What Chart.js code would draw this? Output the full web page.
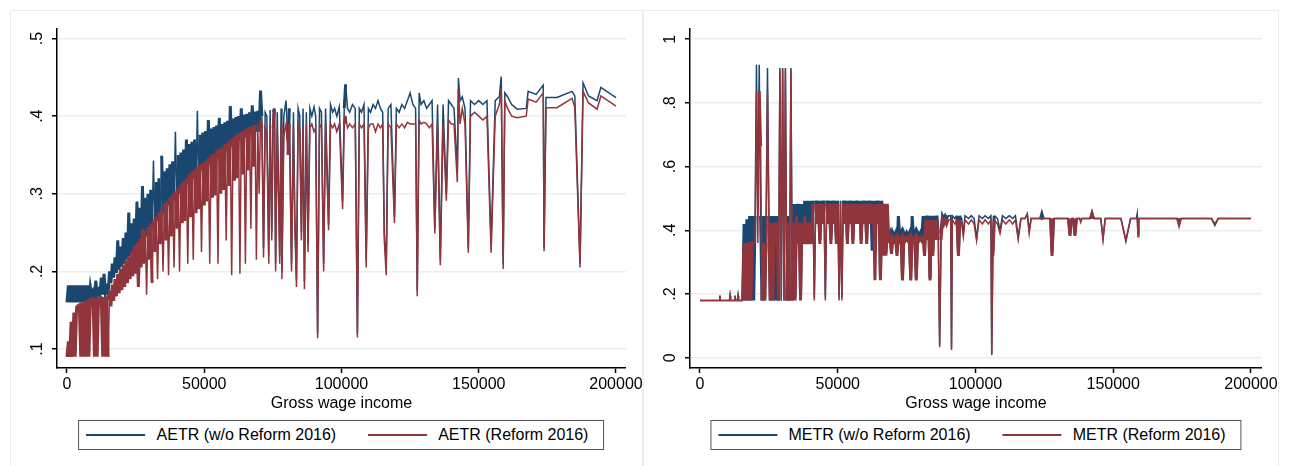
<!DOCTYPE html>
<html>
<head>
<meta charset="utf-8">
<title>AETR / METR</title>
<script src="https://cdn.jsdelivr.net/npm/chart.js@4.4.1/dist/chart.umd.min.js"></script>
<style>
  html, body { margin: 0; padding: 0; background: #fff; }
  body { width: 1291px; height: 466px; overflow: hidden; position: relative;
         font-family: "Liberation Sans", Arial, sans-serif; }
  .panel { position: absolute; top: 10px; height: 470px; box-sizing: border-box;
           border: 1px solid #e8eff1; background: #fff; }
  #panelLeft { left: 10px; width: 633px; }
  #panelRight { left: 643px; width: 636px; }
  .panel canvas { position: absolute; left: 0; top: 0; }
  .legend { position: absolute; top: 409px; height: 30px; box-sizing: border-box;
            transform: translateX(-50%); border: 1.5px solid #555; background: #fff;
            display: flex; align-items: center; padding: 0 15px 0 7px; white-space: nowrap;
            font-size: 16px; color: #000; }
  .legend .item { display: flex; align-items: center; }
  .legend .item + .item { margin-left: 32px; }
  .legend .swatch { display: inline-block; width: 59px; height: 1.5px; margin-right: 11px; }
</style>
</head>
<body>
<div class="panel" id="panelLeft"><canvas id="aetrChart" width="634" height="455"></canvas></div>
<div class="panel" id="panelRight"><canvas id="metrChart" width="636" height="455"></canvas></div>

<script>
// --- data: average effective tax rate (left panel) ---
const aetrIncome = [
  0, 500, 1000, 1500, 2000, 2500, 3000, 3500, 4000, 4500,
  5000, 5500, 6000, 6500, 7000, 7500, 8000, 8500, 9000, 9500,
  10000, 10500, 11000, 11500, 12000, 12500, 13000, 13500, 14000, 14500,
  15000, 15500, 16000, 16500, 17000, 17500, 18000, 18500, 19000, 19500,
  20000, 20500, 21000, 21500, 22000, 22500, 23000, 23500, 24000, 24500,
  25000, 25500, 26000, 26500, 27000, 27500, 28000, 28500, 29000, 29500,
  30000, 30500, 31000, 31500, 32000, 32500, 33000, 33500, 34000, 34500,
  35000, 35500, 36000, 36500, 37000, 37500, 38000, 38500, 39000, 39500,
  40000, 40500, 41000, 41500, 42000, 42500, 43000, 43500, 44000, 44500,
  45000, 45500, 46000, 46500, 47000, 47500, 48000, 48500, 49000, 49500,
  50000, 50500, 51000, 51500, 52000, 52500, 53000, 53500, 54000, 54500,
  55000, 55500, 56000, 56500, 57000, 57500, 58000, 58500, 59000, 59500,
  60000, 60500, 61000, 61500, 62000, 62500, 63000, 63500, 64000, 64500,
  65000, 65500, 66000, 66500, 67000, 67500, 68000, 68500, 69000, 69500,
  70000,
  70500, 71000, 71600, 72200, 72800, 73500, 74000, 74600, 75100, 75600,
  76000, 76600, 77500, 78000, 78300, 79000, 79800, 80500, 81000, 81800,
  82500, 83000, 83600, 84200, 84800, 85400, 86000, 86500, 87200, 87800,
  88500, 89200, 90000, 90600, 91300, 92000, 92700, 93500, 94200, 95300,
  96000, 96800, 97500, 98300, 99200, 100400, 101000, 101500, 102200, 103000,
  104000, 105000, 105800, 106500, 107300, 108200, 109000, 109800, 110600, 111500,
  112400, 113300, 114200, 115000, 115600, 116300, 117000, 118000, 119300, 120000,
  121000, 122000, 123000, 124000, 125000, 126000, 127000, 127600, 128300, 129000,
  130000, 131000, 132000, 133000, 134000, 135000, 136000, 137000, 138200, 139000,
  140000, 141000, 142200, 142600, 143200, 144000, 145000, 146200, 147000, 148500,
  150000, 151500, 153000, 154500, 156000, 157500, 158200, 158900, 159500, 160500,
  162000, 164000, 167300, 168000, 170900, 173500, 173800, 174500, 178500, 184000,
  185000, 186900, 188000, 190000, 193100, 194500, 200000
];
const aetrOld = [
  .160, .182, .160, .182, .160, .182, .160, .182, .160, .182,
  .160, .182, .160, .182, .160, .182, .160, .180, .168, .174,
  .168, .188, .169, .175, .170, .192, .170, .197, .171, .178,
  .172, .200, .185, .210, .192, .218, .198, .240, .202, .232,
  .206, .243, .210, .250, .215, .276, .220, .262, .224, .268,
  .227, .290, .215, .282, .235, .310, .240, .295, .245, .300,
  .245, .305, .255, .343, .255, .315, .265, .320, .265, .349,
  .275, .329, .270, .333, .285, .338, .275, .342, .292, .380,
  .285, .350, .300, .353, .292, .357, .295, .370, .312, .364,
  .300, .367, .320, .370, .305, .407, .310, .376, .330, .379,
  .315, .381, .320, .395, .338, .384, .325, .386, .328, .388,
  .347, .398, .330, .390, .335, .392, .355, .394, .340, .413,
  .361, .397, .347, .399, .350, .400, .369, .410, .355, .402,
  .373, .403, .360, .405, .377, .414, .365, .406, .380, .407,
  .380,
  .433, .400, .230, .405, .400, .220, .408, .250, .405, .410,
  .210, .405, .220, .410, .200, .400, .420, .370, .410, .210,
  .405, .270, .190, .410, .400, .250, .410, .187, .405, .235,
  .410, .400, .412, .400, .120, .410, .405, .210, .410, .260,
  .415, .405, .410, .400, .412, .290, .410, .441, .410, .405,
  .415, .410, .120, .410, .405, .415, .215, .410, .405, .415,
  .410, .420, .410, .405, .250, .205, .410, .415, .270, .410,
  .405, .415, .410, .420, .430, .415, .410, .175, .430, .415,
  .420, .410, .415, .420, .255, .415, .215, .415, .300, .420,
  .415, .410, .330, .449, .420, .425, .410, .230, .420, .415,
  .420, .415, .420, .235, .420, .425, .451, .210, .430, .425,
  .415, .409, .410, .432, .428, .440, .230, .424, .424, .432,
  .426, .210, .443, .426, .420, .437, .424
];
const aetrNew = [
  .090, .110, .090, .135, .090, .147, .090, .154, .156, .157,
  .090, .160, .090, .162, .090, .163, .090, .164, .164, .165,
  .090, .165, .090, .166, .166, .166, .090, .167, .090, .168,
  .090, .175, .155, .183, .162, .190, .168, .197, .172, .203,
  .176, .208, .180, .214, .185, .219, .190, .226, .194, .232,
  .197, .237, .180, .242, .205, .255, .210, .252, .170, .257,
  .215, .262, .185, .266, .225, .271, .190, .276, .235, .280,
  .200, .287, .240, .290, .195, .296, .245, .300, .205, .303,
  .255, .308, .200, .312, .262, .316, .265, .320, .210, .325,
  .270, .328, .215, .332, .275, .335, .280, .338, .225, .340,
  .285, .342, .290, .346, .210, .350, .295, .352, .298, .356,
  .210, .358, .300, .360, .305, .364, .240, .366, .310, .370,
  .195, .373, .317, .376, .320, .378, .197, .380, .325, .382,
  .210, .384, .330, .386, .255, .388, .335, .389, .215, .390,
  .300,
  .395, .385, .218, .385, .380, .210, .390, .240, .385, .409,
  .200, .385, .210, .390, .190, .375, .390, .350, .390, .200,
  .385, .260, .180, .390, .380, .240, .385, .177, .390, .225,
  .385, .390, .380, .385, .114, .390, .385, .200, .390, .253,
  .390, .385, .390, .380, .390, .280, .390, .400, .385, .390,
  .385, .390, .115, .390, .385, .390, .205, .385, .390, .390,
  .380, .390, .385, .390, .240, .195, .390, .385, .262, .390,
  .385, .390, .385, .392, .390, .390, .390, .168, .395, .390,
  .392, .390, .385, .390, .249, .390, .208, .390, .291, .395,
  .390, .390, .315, .435, .390, .410, .390, .224, .400, .405,
  .400, .395, .400, .224, .400, .415, .436, .203, .420, .410,
  .400, .398, .400, .422, .418, .430, .226, .411, .411, .423,
  .411, .205, .432, .417, .409, .426, .413
];

// --- data: marginal effective tax rate (right panel) ---
const metrIncome = [
  0, 7000, 7200, 7400, 10700, 10900, 11100, 12500, 12700, 12900,
  13600, 13800, 14000, 15500,
  16000, 16500, 17000, 17500, 18000, 18500, 19000, 19500, 20000, 20500,
  21000, 21500, 22000, 22500, 23000, 23500, 24000, 24500, 25000, 25500,
  26000, 26500, 27000, 27500, 28000, 28500, 29000, 29500, 30000, 30500,
  31000, 31500, 32000, 32500, 33000, 33500, 34000, 34500, 35000, 35500,
  36000, 36500, 37000, 37500, 38000, 38500, 39000, 39500, 40000, 40500,
  41000, 41500, 42000, 42500, 43000, 43500, 44000, 44500, 45000, 45500,
  46000, 46500, 47000, 47500, 48000, 48500, 49000, 49500, 50000, 50500,
  51000, 51500, 52000, 52500, 53000, 53500, 54000, 54500, 55000, 55500,
  56000, 56500, 57000, 57500, 58000, 58500, 59000, 59500, 60000, 60500,
  61000, 61500, 62000, 62500, 63000, 63500, 64000, 64500, 65000, 65500,
  66000, 66500, 67000, 67500, 68000, 68500, 69000, 69500, 70000, 70500,
  71000, 71500, 72000, 72500, 73000, 73500, 74000, 74500, 75000, 75500,
  76000, 76500, 77000, 77500, 78000, 78500, 79000, 79500, 80000, 80500,
  81000, 81500, 82000, 82500, 83000, 83500, 84000, 84500, 85000, 85500,
  86000, 86500, 87000, 87500, 88000,
  88500, 89000, 89500, 90000, 91000, 91300, 91600, 92500, 93300, 93800,
  94300, 95000, 95600, 96200, 97500, 98500, 99500, 100400, 101300, 102500,
  103500, 104700, 105600, 105900, 106300, 106800, 108000, 108900, 109800, 111000,
  112300, 113500, 114500, 115500, 116500, 118000, 118800, 119500, 120200, 123600,
  124100, 124600, 127300, 127800, 128300, 133800, 134300, 134800, 135600, 136100,
  136600, 137800, 138200, 138600, 141800, 142300, 142800, 145500, 146300, 147100,
  152800, 154600, 156300, 158400, 158700, 159000, 159300, 173400, 173900, 174400,
  185700, 186900, 188100, 200000
];
const metrOld = [
  .180, .180, .195, .180, .180, .195, .180, .180, .195, .180,
  .180, .195, .180, .180,
  .420, .180, .435, .180, .445, .180, .445, .180, .445, .920,
  .445, .920, .445, .180, .445, .180, .445, .910, .445, .180,
  .445, .180, .445, .180, .445, .180, .910, .180, .910, .180,
  .910, .180, .445, .180, .910, .180, .483, .190, .483, .360,
  .483, .190, .483, .360, .493, .360, .493, .420, .493, .360,
  .493, .190, .493, .430, .493, .370, .493, .430, .493, .190,
  .493, .430, .493, .370, .493, .430, .493, .370, .493, .190,
  .493, .190, .493, .430, .493, .370, .493, .430, .493, .370,
  .493, .430, .493, .430, .493, .370, .493, .430, .493, .370,
  .493, .430, .493, .336, .493, .336, .493, .430, .493, .250,
  .493, .390, .440, .330, .393, .383, .393, .330, .393, .383,
  .393, .330, .445, .383, .393, .250, .393, .383, .393, .383,
  .393, .250, .445, .383, .393, .250, .393, .383, .393, .383,
  .445, .330, .446, .390, .446, .250, .446, .330, .446, .390,
  .446, .390, .040, .390, .446,
  .437, .446, .437, .446, .446, .030, .446, .437, .446, .330,
  .446, .437, .390, .446, .437, .446, .437, .375, .446, .437,
  .446, .437, .446, .012, .330, .446, .437, .400, .446, .437,
  .446, .437, .446, .380, .437, .437, .452, .400, .437, .437,
  .452, .437, .437, .330, .437, .437, .390, .437, .437, .390,
  .437, .437, .430, .437, .437, .452, .437, .437, .375, .437,
  .437, .365, .437, .437, .452, .390, .437, .437, .425, .437,
  .437, .415, .437, .437
];
const metrNew = [
  .180, .180, .195, .180, .180, .195, .180, .180, .195, .180,
  .180, .195, .180, .180,
  .360, .180, .360, .180, .365, .180, .360, .360, .360, .837,
  .360, .837, .665, .180, .360, .180, .360, .837, .420, .180,
  .424, .180, .424, .360, .424, .180, .905, .180, .905, .180,
  .905, .180, .424, .180, .905, .180, .424, .180, .445, .357,
  .424, .180, .424, .357, .445, .357, .424, .357, .424, .357,
  .483, .180, .483, .420, .483, .357, .483, .420, .483, .180,
  .483, .420, .483, .357, .483, .420, .483, .357, .483, .180,
  .483, .180, .483, .420, .483, .357, .483, .420, .483, .357,
  .483, .420, .483, .420, .483, .357, .483, .420, .483, .357,
  .483, .420, .483, .420, .483, .243, .483, .420, .483, .243,
  .483, .320, .483, .320, .483, .370, .377, .326, .377, .368,
  .377, .320, .377, .368, .377, .243, .377, .368, .377, .368,
  .377, .243, .377, .368, .377, .243, .377, .368, .377, .368,
  .377, .320, .433, .370, .433, .243, .433, .320, .433, .370,
  .433, .370, .033, .370, .433,
  .420, .433, .420, .433, .433, .024, .433, .420, .433, .320,
  .433, .420, .380, .433, .420, .433, .420, .368, .433, .420,
  .433, .420, .433, .008, .320, .433, .420, .390, .433, .420,
  .433, .420, .433, .370, .437, .437, .450, .390, .437, .437,
  .437, .437, .437, .320, .437, .437, .383, .437, .437, .383,
  .437, .437, .425, .437, .437, .452, .437, .437, .370, .437,
  .437, .370, .437, .437, .437, .380, .437, .437, .420, .437,
  .437, .420, .437, .437
];

// axis ticks / text
const incomeTicks = [0, 50000, 100000, 150000, 200000];
const aetrTicks = [0.1, 0.2, 0.3, 0.4, 0.5];
const metrTicks = [0, 0.2, 0.4, 0.6, 0.8, 1];
const aetrLabels = ['AETR (w/o Reform 2016)', 'AETR (Reform 2016)'];
const metrLabels = ['METR (w/o Reform 2016)', 'METR (Reform 2016)'];
const xTitle = 'Gross wage income';

const BLUE = '#1a476f';
const RED = '#90353b';
const GRID = '#e8eff1';

Chart.defaults.font.family = '"Liberation Sans", Arial, sans-serif';
Chart.defaults.font.size = 16;
Chart.defaults.color = '#000';

function pairs(xs, ys) {
  return xs.map((x, i) => ({ x: x, y: ys[i] }));
}

function rateLabel(v) {
  const s = String(Math.round(v * 10) / 10);
  return s.startsWith('0.') ? s.slice(1) : s;
}

// densely sampled stretches (one point every 500) get a heavier stroke so they read as a band;
// big jumps (spikes / dips) stay thin
function segWidth(jump) {
  return ctx => {
    const dx = Math.abs(ctx.p1.parsed.x - ctx.p0.parsed.x);
    const dy = Math.abs(ctx.p1.parsed.y - ctx.p0.parsed.y);
    return (dx === 500 && dy < jump) ? 3 : 1.5;
  };
}

function buildChart(canvasId, income, oldRates, newRates, labels, yTicks, xRange, yRange, jump) {
  const ctx = document.getElementById(canvasId).getContext('2d');
  return new Chart(ctx, {
    type: 'line',
    data: {
      datasets: [
        { label: labels[0], data: pairs(income, oldRates), borderColor: BLUE, order: 2,
          segment: { borderWidth: segWidth(jump) } },
        { label: labels[1], data: pairs(income, newRates), borderColor: RED, order: 1,
          segment: { borderWidth: segWidth(jump) } }
      ]
    },
    options: {
      responsive: false,
      animation: false,
      events: [],
      layout: { padding: { top: 16, right: 18, bottom: 49, left: 0 } },
      elements: {
        line: { borderWidth: 1.5, tension: 0, fill: false },
        point: { radius: 0 }
      },
      plugins: { legend: { display: false }, tooltip: { enabled: false } },
      scales: {
        x: {
          type: 'linear',
          min: xRange[0], max: xRange[1],
          afterFit: s => { s.height = 49; },
          afterBuildTicks: s => { s.ticks = incomeTicks.map(v => ({ value: v })); },
          ticks: { maxRotation: 0, padding: 2, callback: v => String(v) },
          grid: { drawOnChartArea: false, tickLength: 5, tickColor: '#000', tickWidth: 1.5 },
          border: { color: '#000', width: 1.5 },
          title: { display: true, text: xTitle, padding: { top: 4, bottom: 4 } }
        },
        y: {
          min: yRange[0], max: yRange[1],
          afterFit: s => { s.width = 46; },
          afterBuildTicks: s => { s.ticks = yTicks.map(v => ({ value: v })); },
          ticks: { minRotation: 90, maxRotation: 90, crossAlign: 'center', padding: 8, callback: rateLabel },
          grid: { color: GRID, lineWidth: 1.5, tickLength: 5, tickColor: '#000', tickWidth: 1.5 },
          border: { color: '#000', width: 1.5 }
        }
      }
    }
  });
}

function addLegend(chart, panelId) {
  const panel = document.getElementById(panelId);
  const legend = document.createElement('div');
  legend.className = 'legend';
  chart.data.datasets.forEach(ds => {
    const item = document.createElement('span');
    item.className = 'item';
    const swatch = document.createElement('span');
    swatch.className = 'swatch';
    swatch.style.background = ds.borderColor;
    const text = document.createElement('span');
    text.textContent = ds.label;
    item.append(swatch, text);
    legend.append(item);
  });
  const area = chart.chartArea;
  legend.style.left = ((area.left + area.right) / 2) + 'px';
  panel.appendChild(legend);
}

const aetrChart = buildChart('aetrChart', aetrIncome, aetrOld, aetrNew, aetrLabels, aetrTicks,
  [-3636, 203636], [0.0756, 0.5128], 0.08);
const metrChart = buildChart('metrChart', metrIncome, metrOld, metrNew, metrLabels, metrTicks,
  [-3630, 203990], [-0.0322, 1.0334], 0.3);

addLegend(aetrChart, 'panelLeft');
addLegend(metrChart, 'panelRight');
</script>
</body>
</html>
